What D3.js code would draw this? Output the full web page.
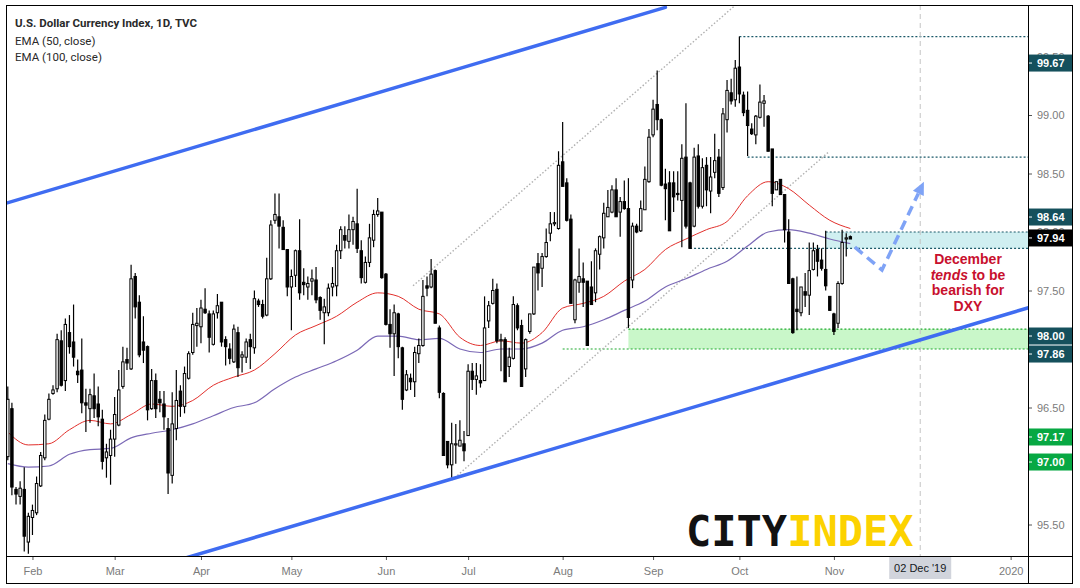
<!DOCTYPE html>
<html><head><meta charset="utf-8">
<script src="https://cdnjs.cloudflare.com/ajax/libs/d3/7.8.5/d3.min.js"></script>
<style>body{margin:0;background:#fff;}svg{display:block}</style>
</head><body>
<svg id="c" width="1080" height="588"></svg>
<script>
// ---------------- DATA ----------------
const title = "U.S. Dollar Currency Index, 1D, TVC";
const legendLines = ["EMA (50, close)", "EMA (100, close)"];
const startDate = [2019, 0, 24]; // first bar (weekday bars)
const opens  = [96.08,96.49,95.80,95.74,95.80,95.35,95.56,95.60,95.83,96.07,96.40,96.62,96.66,97.07,96.73,97.14,97.06,96.81,96.82,96.54,96.49,96.60,96.53,96.40,96.07,96.09,96.23,96.35,96.68,96.91,96.83,97.62,97.40,97.06,97.02,96.49,96.73,96.57,96.53,96.32,95.92,96.32,96.64,96.51,96.75,96.97,97.20,97.19,97.34,97.30,97.04,97.31,97.40,97.08,97.00,96.89,97.14,96.93,96.93,97.08,97.01,97.41,97.38,97.29,97.60,98.10,98.13,98.04,97.85,97.53,97.63,97.84,97.57,97.53,97.58,97.59,97.44,97.31,97.31,97.53,97.54,97.84,97.97,97.92,98.02,98.07,97.84,97.57,97.74,97.93,98.15,98.17,97.64,97.21,97.13,97.30,97.01,96.65,96.75,96.72,96.96,97.03,97.54,97.53,97.67,97.18,96.62,96.21,96.01,96.18,96.17,96.19,96.26,96.81,96.74,96.73,96.73,97.24,97.39,97.51,97.07,97.08,96.85,96.92,97.37,97.20,96.83,97.15,97.30,97.73,97.69,97.79,97.99,98.07,98.03,98.60,98.42,98.11,97.25,97.57,97.60,97.58,97.53,97.48,97.81,97.95,98.13,98.17,98.36,98.17,98.26,98.20,97.59,98.05,98.01,98.19,98.43,98.83,99.09,98.96,98.41,98.42,98.42,98.33,98.27,98.64,98.42,98.05,98.65,98.22,98.57,98.35,98.51,98.64,98.38,98.96,99.19,99.13,99.41,99.17,99.04,98.88,98.83,98.98,99.10,98.99,98.71,98.36,98.45,98.32,98.00,97.60,97.34,97.31,97.49,97.46,97.68,97.85,97.76,97.68,97.45,97.30,97.22,97.56,97.94,97.96];
const highs  = [96.68,96.54,95.82,95.87,95.99,95.60,95.67,95.91,96.12,96.44,96.62,96.69,97.13,97.16,97.26,97.29,97.38,96.91,97.09,96.66,96.66,96.79,96.68,96.48,96.19,96.31,96.59,96.82,97.02,97.01,97.72,97.65,97.46,97.28,97.03,96.83,96.79,96.64,96.64,96.41,96.63,96.82,96.69,96.85,96.98,97.31,97.35,97.42,97.52,97.33,97.33,97.47,97.40,97.11,97.05,97.21,97.19,96.98,97.09,97.13,97.50,97.43,97.42,97.78,98.10,98.33,98.33,98.10,97.85,97.68,97.85,98.11,97.69,97.62,97.68,97.70,97.45,97.43,97.56,97.70,97.89,98.05,98.05,98.15,98.13,98.37,97.93,97.79,98.07,98.19,98.29,98.17,97.65,97.34,97.38,97.31,97.02,96.82,96.79,97.02,97.09,97.59,97.62,97.77,97.68,97.20,96.63,96.21,96.37,96.36,96.39,96.30,96.87,96.88,96.88,96.87,97.45,97.41,97.60,97.56,97.13,97.10,97.01,97.45,97.39,97.25,97.09,97.30,97.70,97.82,97.82,98.03,98.17,98.17,98.69,98.94,98.46,98.15,97.60,97.86,97.74,97.58,97.75,97.86,97.97,98.25,98.36,98.40,98.46,98.30,98.44,98.46,98.08,98.07,98.27,98.56,98.88,99.13,99.38,98.97,98.54,98.52,98.52,98.52,98.75,99.10,98.43,98.72,98.75,98.63,98.64,98.64,98.84,98.71,99.06,99.30,99.31,99.47,99.67,99.20,99.20,98.93,99.00,99.26,99.17,99.00,98.71,98.43,98.45,98.32,98.11,97.61,97.62,97.53,97.65,97.91,97.91,97.89,97.86,98.01,97.45,97.31,97.58,98.02,97.99,97.97];
const lows   = [96.05,95.75,95.67,95.67,95.27,95.25,95.41,95.58,95.82,96.05,96.39,96.61,96.63,96.68,96.64,96.96,96.85,96.71,96.45,96.29,96.37,96.41,96.34,95.97,95.90,95.84,96.08,96.34,96.66,96.82,96.82,97.26,96.93,96.88,96.39,96.48,96.41,96.46,96.31,95.76,95.85,96.22,96.42,96.45,96.74,96.95,97.02,97.05,97.30,96.97,97.03,97.26,97.02,96.86,96.87,96.88,96.76,96.80,96.88,96.83,96.96,97.36,97.26,97.28,97.59,98.07,97.86,97.85,97.45,97.16,97.53,97.42,97.46,97.42,97.46,97.39,97.25,97.04,97.28,97.45,97.45,97.77,97.86,97.86,97.89,97.82,97.56,97.56,97.70,97.87,98.13,97.60,97.20,97.01,96.77,96.92,96.48,96.64,96.65,96.59,96.88,97.02,97.45,97.52,97.22,96.58,96.09,95.98,95.88,96.02,96.17,96.04,96.26,96.65,96.61,96.67,96.73,97.18,97.38,97.05,96.81,96.72,96.76,96.91,97.16,96.68,96.76,97.13,97.29,97.50,97.53,97.78,97.92,98.05,98.02,98.39,98.09,97.39,97.22,97.48,97.36,97.03,97.38,97.40,97.68,97.86,98.13,98.16,98.13,97.96,98.19,97.18,97.52,97.99,98.00,98.19,98.42,98.81,98.87,98.39,98.10,98.01,98.17,98.27,97.87,98.03,97.86,98.04,98.20,98.20,98.22,98.16,98.46,98.30,98.36,98.85,99.09,99.07,99.10,98.99,98.65,98.83,98.75,98.97,98.90,98.69,98.22,98.36,98.32,97.91,97.56,97.13,97.16,97.28,97.36,97.29,97.67,97.62,97.67,97.50,97.33,97.12,97.18,97.55,97.79,97.94];
const closes = [96.57,95.82,95.76,95.81,95.40,95.57,95.62,95.85,96.09,96.39,96.57,96.65,97.08,96.69,97.21,97.02,96.93,96.78,96.54,96.52,96.61,96.49,96.42,96.04,96.12,96.23,96.44,96.65,96.89,96.88,97.60,97.36,96.95,96.99,96.48,96.73,96.49,96.54,96.42,95.94,96.36,96.56,96.51,96.79,96.96,97.21,97.22,97.35,97.31,97.10,97.30,97.37,97.06,97.02,96.92,97.17,96.84,96.95,97.06,97.02,97.43,97.38,97.28,97.60,98.06,98.15,98.05,97.85,97.53,97.62,97.84,97.48,97.55,97.56,97.60,97.42,97.33,97.36,97.52,97.56,97.84,98.02,97.93,98.02,98.09,97.86,97.61,97.74,97.95,98.15,98.18,97.61,97.21,97.13,97.31,97.02,96.57,96.78,96.72,96.97,97.03,97.45,97.52,97.64,97.22,96.63,96.09,96.01,96.19,96.19,96.22,96.13,96.81,96.74,96.77,96.71,97.18,97.37,97.50,97.07,97.08,96.72,96.93,97.38,97.18,96.68,97.08,97.30,97.70,97.65,97.79,97.91,98.07,98.08,98.57,98.39,98.10,97.39,97.59,97.62,97.57,97.03,97.38,97.84,97.96,98.16,98.21,98.36,98.13,98.26,98.20,97.27,98.05,98.00,98.20,98.45,98.81,99.05,98.96,98.40,98.37,98.01,98.30,98.32,98.63,98.05,97.86,98.64,98.22,98.55,98.36,98.47,98.61,98.33,99.01,99.21,99.12,99.40,99.18,99.02,98.91,98.84,98.99,99.11,99.12,98.69,98.33,98.43,98.32,98.02,97.56,97.14,97.32,97.53,97.46,97.67,97.84,97.75,97.69,97.54,97.33,97.15,97.56,97.91,97.95,97.94];

// EMA values every 5 bars
const emaIdx = [0,5,10,15,20,25,30,35,40,45,50,55,60,65,70,75,80,85,90,95,100,105,110,115,120,125,130,135,140,145,150,155,160,165,170,175,180,185,190,195,200,205];
const ema50  = [96.29,96.18,96.19,96.31,96.39,96.36,96.44,96.53,96.51,96.56,96.69,96.76,96.82,96.96,97.12,97.20,97.28,97.40,97.48,97.45,97.34,97.30,97.10,97.03,97.07,97.05,97.14,97.35,97.39,97.45,97.58,97.68,97.85,97.94,98.02,98.09,98.31,98.43,98.37,98.23,98.10,98.03];
const ema100 = [96.02,95.99,96.00,96.10,96.14,96.15,96.24,96.28,96.31,96.36,96.43,96.50,96.54,96.66,96.76,96.83,96.90,96.99,97.11,97.11,97.08,97.09,97.00,96.97,97.00,97.00,97.05,97.16,97.19,97.25,97.33,97.41,97.53,97.60,97.68,97.75,97.88,98.00,98.02,97.99,97.94,97.90];

const yTicks = [95.5,96,96.5,97,97.5,98,98.5,99,99.5];
const monthNames = ["Jan","Feb","Mar","Apr","May","Jun","Jul","Aug","Sep","Oct","Nov","Dec"];
const crosshairLabel = "02 Dec '19";
const crosshairDate = [2019, 11, 2];

// drawings: [bar index, price]
const upperChannel = [[-1, 98.24], [160, 99.92]];
const lowerChannel = [[40, 95.18], [250, 97.37]];
const dottedUpper  = [[98.6, 97.54], [180, 100.03]];
const dottedLower  = [[108.1, 95.88], [199.6, 98.68]];
const arrowPath    = [[206.1, 97.87], [212.7, 97.675], [222.9, 98.43]];
const levelPrices  = [99.67, 98.64];
const levelStarts  = [178, 180];
const cyanZone  = {top: 98.00, bottom: 97.86, startTop: 199, startBottom: 166};
const greenZone = {top: 97.17, bottom: 97.00, startTop: 151, startBottom: 135};

// right-axis price tags (text, price level where the tag sits, colour)
const tagTexts  = ["99.67","98.64","97.94","98.00","97.86","97.17","97.00"];
const tagLevels = [99.444, 98.128, 97.949, 97.111, 96.957, 96.248, 96.034];
const tagColors = ["#15505c","#15505c","#000000","#15505c","#15505c","#07a843","#07a843"];

const noteLines = ["December", "tends| to be", "bearish for", "DXY"];

// ---------------- LAYOUT ----------------
const L = 6, R = 1028, T = 5, B = 556, FR = 1073, FB = 583;
const svg = d3.select("#c");
const x = d3.scaleLinear().domain([0, 205]).range([7.8, 850.35]);
const y = d3.scaleLinear().domain([95.5, 99]).range([524.5, 115]);

// dates of weekday bars
const dates = [];
{ let t = Date.UTC(...startDate); while (dates.length < 252) { const dd = new Date(t); const wd = dd.getUTCDay(); if (wd > 0 && wd < 6) dates.push(dd); t += 86400000; } }
const chIdx = dates.findIndex(dd => dd.getTime() === Date.UTC(...crosshairDate));
const tickIdx = [], tickLab = [];
for (let k = 1; k < dates.length; k++) {
  if (dates[k].getUTCMonth() !== dates[k-1].getUTCMonth()) {
    const m = dates[k].getUTCMonth();
    // the crosshair date label covers the month tick next to it
    if (Math.abs(x(k) - x(chIdx)) < 35) continue;
    tickIdx.push(k); tickLab.push(m === 0 ? String(dates[k].getUTCFullYear()) : monthNames[m]);
  }
}

svg.append("rect").attr("width",1080).attr("height",588).attr("fill","#fff");
svg.append("defs").append("clipPath").attr("id","plot").append("rect")
  .attr("x",L).attr("y",T).attr("width",R-L).attr("height",B-T);
const g = svg.append("g").attr("clip-path","url(#plot)");

// zones
function zone(z, fill, stroke) {
  g.append("rect").attr("x", x(z.startTop)).attr("width", R - x(z.startTop))
    .attr("y", y(z.top)).attr("height", y(z.bottom) - y(z.top)).attr("fill", fill);
  g.append("line").attr("x1", x(z.startTop)).attr("x2", R).attr("y1", y(z.top)).attr("y2", y(z.top))
    .attr("stroke", stroke).attr("stroke-width", 1.2).attr("stroke-dasharray","2,2");
  g.append("line").attr("x1", x(z.startBottom)).attr("x2", R).attr("y1", y(z.bottom)).attr("y2", y(z.bottom))
    .attr("stroke", stroke).attr("stroke-width", 1.2).attr("stroke-dasharray","2,2");
}
zone(greenZone, "#c9f7c9", "#1faa2e");
zone(cyanZone, "#d0eff1", "#1b5968");
levelPrices.forEach((p, k) => {
  g.append("line").attr("x1", x(levelStarts[k])).attr("x2", R).attr("y1", y(p)).attr("y2", y(p))
    .attr("stroke", "#1b5968").attr("stroke-width", 1.2).attr("stroke-dasharray","2,2");
});

// vertical crosshair dashed line
g.append("line").attr("x1", x(chIdx)).attr("x2", x(chIdx)).attr("y1", T).attr("y2", B)
  .attr("stroke", "#c4c4c4").attr("stroke-width", 1).attr("stroke-dasharray","5,4");

// gray dotted channel
const lineGen = d3.line().x(d => x(d[0])).y(d => y(d[1]));
[dottedUpper, dottedLower].forEach(pts => {
  g.append("path").attr("d", lineGen(pts)).attr("fill","none").attr("stroke","#b0b0b0")
    .attr("stroke-width",1.4).attr("stroke-dasharray","1.5,2");
});

// EMAs
const emaLine = d3.line().curve(d3.curveMonotoneX).x((d,k) => x(emaIdx[k])).y(d => y(d));
g.append("path").attr("d", emaLine(ema100)).attr("fill","none").attr("stroke","#7b69b6").attr("stroke-width",1.2);
g.append("path").attr("d", emaLine(ema50)).attr("fill","none").attr("stroke","#e2302c").attr("stroke-width",1);

// candles
const candles = opens.map((o, i) => ({i, o, h: highs[i], l: lows[i], c: closes[i]}));
g.selectAll("line.wick").data(candles).join("line").attr("class","wick")
  .attr("x1", d => x(d.i)).attr("x2", d => x(d.i)).attr("y1", d => y(d.h)).attr("y2", d => y(d.l))
  .attr("stroke", "#000").attr("stroke-width", 1.2);
g.selectAll("rect.body").data(candles).join("rect").attr("class","body")
  .attr("x", d => x(d.i) - 1.2).attr("width", 2.4)
  .attr("y", d => y(Math.max(d.o, d.c)))
  .attr("height", d => Math.max(0.8, Math.abs(y(d.o) - y(d.c))))
  .attr("fill", d => d.c >= d.o ? "#fff" : "#000").attr("stroke", "#000").attr("stroke-width", 1);

// blue channel
[upperChannel, lowerChannel].forEach(pts => {
  g.append("path").attr("d", lineGen(pts)).attr("fill","none").attr("stroke","#3f6cf1")
    .attr("stroke-width",3.5).attr("stroke-linecap","round");
});

// dashed arrow
{
  const px = arrowPath.map(d => [x(d[0]), y(d[1])]);
  const n = px.length, tip = px[n-1], prev = px[n-2];
  const dx = tip[0]-prev[0], dy = tip[1]-prev[1], len = Math.hypot(dx,dy);
  const ux = dx/len, uy = dy/len, hl = 13, hw = 6;
  const base = [tip[0]-ux*hl, tip[1]-uy*hl];
  const pts = px.slice(0, n-1).concat([base]);
  g.append("path").attr("d", d3.line()(pts)).attr("fill","none").attr("stroke","#7fa3f6")
    .attr("stroke-width",3.5).attr("stroke-dasharray","10,6");
  g.append("path").attr("d", d3.line()([tip, [base[0]-uy*hw, base[1]+ux*hw], [base[0]+uy*hw, base[1]-ux*hw]]) + "Z")
    .attr("fill","#7fa3f6");
}

// note text
const note = svg.append("text").attr("x", 968).attr("y", 264).attr("text-anchor","middle")
  .attr("font-family","Liberation Sans, Arial, sans-serif").attr("font-weight","bold")
  .attr("font-size",14).attr("fill","#c8102e");
noteLines.forEach((ln, k) => {
  const parts = ln.split("|");
  const t = note.append("tspan").attr("x", 968).attr("dy", k === 0 ? 0 : 15.7);
  if (parts.length > 1) {
    t.text(parts[0]).attr("font-style","italic");
    note.append("tspan").text(parts[1]);
  } else t.text(ln);
});

// logo
const logo = svg.append("text").attr("x", 686).attr("y", 546)
  .attr("font-family","DejaVu Sans Mono, monospace").attr("font-weight","bold").attr("font-size",42);
logo.append("tspan").text("CITY").attr("fill","#121212");
logo.append("tspan").text("INDEX").attr("fill","#fcd200");

// legend
svg.append("text").attr("x",15).attr("y",27).text(title)
  .attr("font-family","Roboto, sans-serif").attr("font-weight","bold").attr("font-size",11.5).attr("fill","#2a2a2a");
legendLines.forEach((t,k) => svg.append("text").attr("x",15).attr("y",44.5 + k*16.5).text(t)
  .attr("font-family","Roboto, sans-serif").attr("font-size",11.5).attr("fill","#2a2a2a"));

// axes
const axFont = "Liberation Sans, Arial, sans-serif";
// tick labels that sit fully under a price tag are not shown (as in the reference)
const hidden = v => tagLevels.some(p => Math.abs(y(p) - y(v)) < 5.5);
const yAxis = svg.append("g").attr("transform", `translate(${R},0)`)
  .call(d3.axisRight(y).tickValues(yTicks).tickFormat(v => hidden(v) ? "" : d3.format(".2f")(v)).tickSize(4).tickPadding(5));
yAxis.select(".domain").remove();
yAxis.selectAll("text").attr("font-family", axFont).attr("font-size", 11).attr("fill", "#7b7b7b");
yAxis.selectAll("line").attr("stroke", "#555");

const xAxis = svg.append("g").attr("transform", `translate(0,${B})`)
  .call(d3.axisBottom(x).tickValues(tickIdx).tickFormat((d,k) => tickLab[k]).tickSize(4).tickPadding(7));
xAxis.select(".domain").remove();
xAxis.selectAll("text").attr("font-family", axFont).attr("font-size", 11).attr("fill", "#7b7b7b");
xAxis.selectAll("line").attr("stroke", "#555");

// crosshair date label
{
  const cx = x(chIdx);
  svg.append("rect").attr("x", cx-31).attr("y", B+1).attr("width", 62).attr("height", 22).attr("fill", "#d1d4dc");
  svg.append("text").attr("x", cx).attr("y", B+16).attr("text-anchor","middle").text(crosshairLabel)
    .attr("font-family", axFont).attr("font-size", 11).attr("fill", "#131722");
}

// price tags
tagTexts.forEach((t, k) => {
  const cy = y(tagLevels[k]);
  svg.append("rect").attr("x", R).attr("y", cy-8.5).attr("width", FR-R).attr("height", 17).attr("fill", tagColors[k]);
  svg.append("line").attr("x1", R).attr("x2", R+4).attr("y1", cy).attr("y2", cy).attr("stroke","#fff").attr("stroke-width",1);
  svg.append("text").attr("x", R+9).attr("y", cy+4).text(t)
    .attr("font-family", axFont).attr("font-weight","bold").attr("font-size", 11).attr("fill", "#fff");
});

// frame
svg.append("rect").attr("x", L+0.5).attr("y", T+0.5).attr("width", FR-L-1).attr("height", FB-T)
  .attr("fill","none").attr("stroke","#000").attr("stroke-width",1);
svg.append("line").attr("x1", R+0.5).attr("x2", R+0.5).attr("y1", T).attr("y2", FB).attr("stroke","#000");
svg.append("line").attr("x1", L).attr("x2", FR).attr("y1", B+0.5).attr("y2", B+0.5).attr("stroke","#000");
</script>
</body></html>
